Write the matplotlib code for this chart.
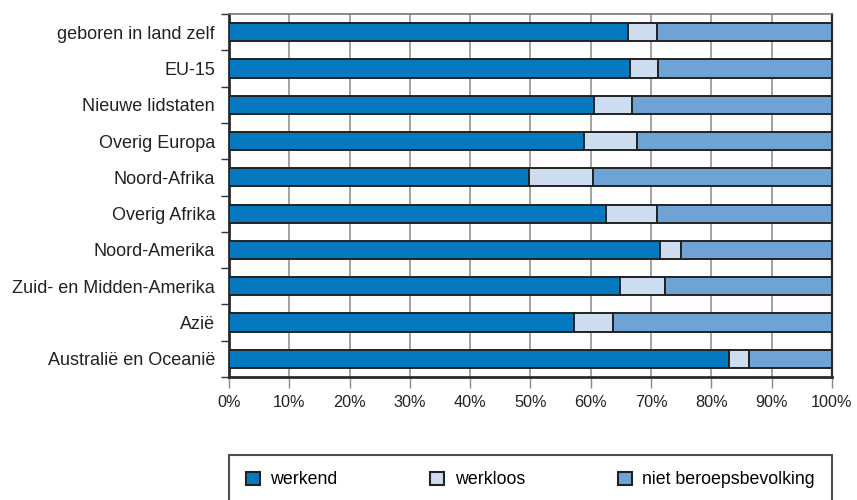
import numpy as np
import matplotlib.pyplot as plt
from matplotlib.patches import Patch

plt.rcParams['font.family'] = ['Liberation Sans', 'DejaVu Sans']

categories = ['geboren in land zelf', 'EU-15', 'Nieuwe lidstaten', 'Overig Europa',
              'Noord-Afrika', 'Overig Afrika', 'Noord-Amerika',
              'Zuid- en Midden-Amerika', 'Azië', 'Australië en Oceanië']
werkend = [66.1, 66.5, 60.5, 58.9, 49.8, 62.5, 71.4, 64.9, 57.2, 83.0]
werkloos = [4.8, 4.7, 6.3, 8.8, 10.5, 8.5, 3.5, 7.4, 6.5, 3.2]
niet_bb = [100 - a - b for a, b in zip(werkend, werkloos)]

series = ['werkend', 'werkloos', 'niet beroepsbevolking']
colors = ['#0579c0', '#cddcee', '#70a3d5']
edge = '#222222'

fig = plt.figure(figsize=(8.57, 5), dpi=100)
ax = fig.add_axes([0.2672, 0.246, 0.7036, 0.726])

y = np.arange(len(categories))
left = np.zeros(len(categories))
for vals, c in zip([werkend, werkloos, niet_bb], colors):
    ax.barh(y, vals, left=left, height=0.5, color=c, edgecolor=edge,
            linewidth=1.4, zorder=3)
    left += np.array(vals)

ax.set_xlim(0, 100)
ax.set_ylim(len(categories) - 0.5, -0.5)
ax.set_xticks(np.arange(0, 101, 10))
ax.set_xticklabels([f'{v}%' for v in range(0, 101, 10)], fontsize=11.7, color='#222222')
ax.set_yticks(y)
ax.set_yticklabels(categories, fontsize=13, color='#222222')
ax.set_yticks(np.arange(-0.5, len(categories), 1), minor=True)
ax.tick_params(axis='y', which='major', length=0, pad=10)
ax.tick_params(axis='y', which='minor', length=6, width=1, color='#333333')
ax.tick_params(axis='x', length=8, width=1, color='#888888', pad=5)
ax.grid(axis='x', color='#8a8a8a', linewidth=1.1, zorder=0)
for s in ax.spines.values():
    s.set_color('#2a2a2a')
    s.set_linewidth(1.6)
ax.spines['left'].set_linewidth(2.0)
ax.spines['bottom'].set_linewidth(2.0)
ax.spines['top'].set_color('#777777')
ax.spines['top'].set_linewidth(1.2)

handles = [Patch(facecolor=c, edgecolor=edge, linewidth=1.5) for c in colors]
leg = fig.legend(handles, series, loc='center', ncol=3, mode='expand',
                 bbox_to_anchor=(0.2672, -0.01, 0.7036, 0.10),
                 bbox_transform=fig.transFigure, fontsize=12.8,
                 handlelength=0.78, handleheight=0.78, handletextpad=0.6,
                 fancybox=False, borderpad=0.95, borderaxespad=0)
leg.get_frame().set_edgecolor('#222222')
leg.get_frame().set_linewidth(1.5)

fig.savefig('out.png', dpi=100)
